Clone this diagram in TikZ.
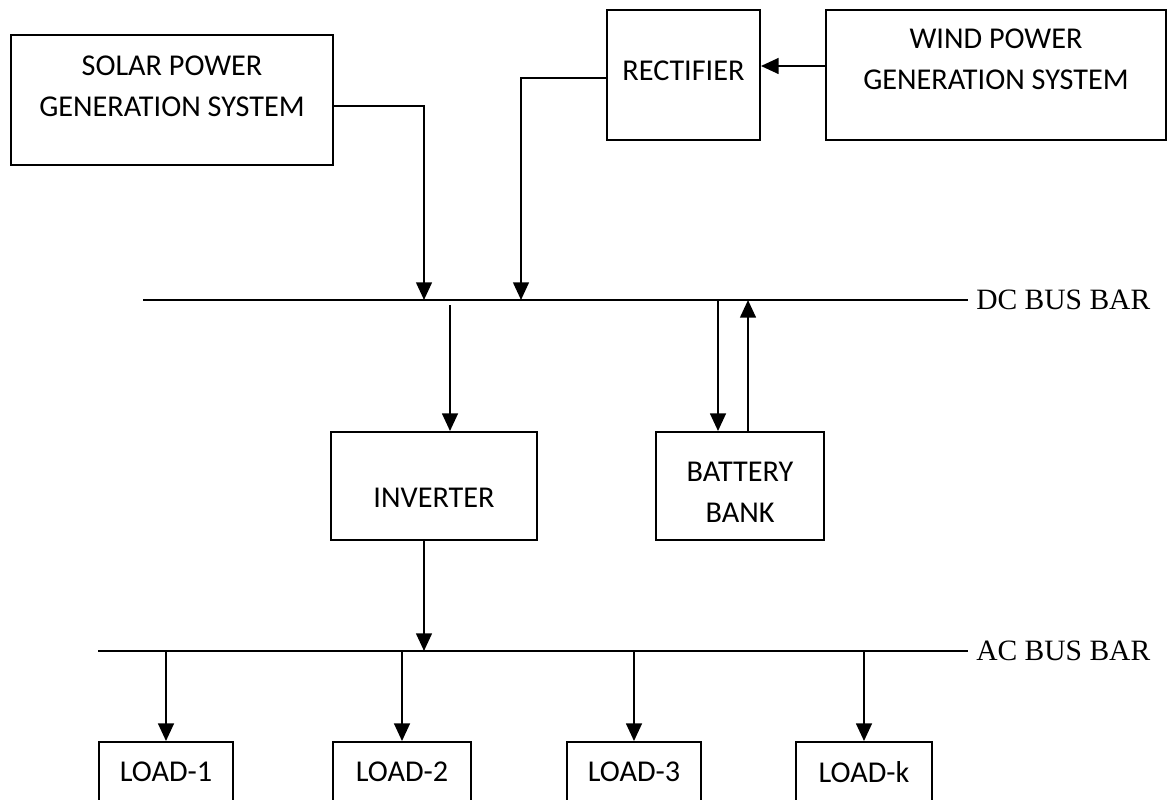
\documentclass[tikz,border=0pt]{standalone}
\usepackage{fontspec}
\setmainfont{Carlito}
\newfontfamily\busfont{Liberation Serif}
\usetikzlibrary{arrows.meta}

\begin{document}
\begin{tikzpicture}[
	x = 0.025cm, y = -0.025cm, % one unit per pixel of the sketch
	> = {Triangle[length=4.4mm, width=3.9mm]}, % arrow head style
	B/.style={rectangle, draw=black, line width=1.3pt, inner sep=0pt},
	T/.style={align=center, inner sep=0pt, font=\fontsize{21.5}{29}\selectfont},
	BL/.style={anchor=west, inner sep=0pt, font=\busfont\fontsize{21}{24}\selectfont},
	BUS/.style={line width=1.4pt},
	F/.style={->, line width=1.7pt},
	]
	\clip (0,0) rectangle (1169,800);

	% Sources
	\node[B, minimum width=8.05cm, minimum height=3.25cm] (solar) at (172,100) {};
	\node[B, minimum width=3.825cm, minimum height=3.25cm] (rect) at (683.5,75) {};
	\node[B, minimum width=8.5cm, minimum height=3.25cm] (wind) at (996,75) {};
	\node[T] (solar-t) at (172,86.5) {SOLAR POWER\\GENERATION SYSTEM};
	\node[T] (rect-t)  at (683.5,71) {RECTIFIER};
	\node[T] (wind-t)  at (996,59.5) {WIND POWER\\GENERATION SYSTEM};

	% Inverter and storage
	\node[B, minimum width=5.15cm, minimum height=2.7cm] (inv) at (434,486) {};
	\node[B, minimum width=4.2cm, minimum height=2.7cm] (bat) at (740,486) {};
	\node[T] (inv-t) at (434,498) {INVERTER};
	\node[T] (bat-t) at (740,492) {BATTERY\\BANK};

	% Loads
	\node[B, minimum width=3.35cm, minimum height=2.5cm] (load1) at (166,792) {};
	\node[B, minimum width=3.45cm, minimum height=2.5cm] (load2) at (402,792) {};
	\node[B, minimum width=3.35cm, minimum height=2.5cm] (load3) at (634,792) {};
	\node[B, minimum width=3.4cm, minimum height=2.5cm] (loadk) at (864,792) {};
	\node[T] (load1-t) at (166,772) {LOAD-1};
	\node[T] (load2-t) at (402,772) {LOAD-2};
	\node[T] (load3-t) at (634,772) {LOAD-3};
	\node[T] (loadk-t) at (864,772) {LOAD-k};

	% Bus bars
	\coordinate (dcL) at (143,300);
	\coordinate (dcR) at (968,300);
	\coordinate (acL) at (98,651);
	\coordinate (acR) at (968,651);
	\draw[BUS] (dcL) -- (dcR);
	\draw[BUS] (acL) -- (acR);
	\node[BL] (dc) at (976,300) {DC BUS BAR};
	\node[BL] (ac) at (976,651) {AC BUS BAR};

	% Taps on the bus bars
	\coordinate (dc1) at (424,300);
	\coordinate (dc2) at (521,300);
	\coordinate (dc3) at (450,305);
	\coordinate (dc4) at (718,300);
	\coordinate (dc5) at (748,300);
	\coordinate (ac0) at (424,651);

	% Power flow
	\draw[F] (wind.west) ++(0,2.25mm) coordinate (w) -- (w -| rect.east);
	\draw[F] ([yshift=-1.5mm]solar.east) -| (dc1);
	\draw[F] ([yshift=-0.75mm]rect.west) -| (dc2);
	\draw[F] (dc3) -- (dc3 |- inv.north);
	\draw[F] (dc4) -- (dc4 |- bat.north);
	\draw[F] (dc5 |- bat.north) -- (dc5);
	\draw[F] (ac0 |- inv.south) -- (ac0);
	\draw[F] (load1.north |- acL) -- (load1.north);
	\draw[F] (load2.north |- acL) -- (load2.north);
	\draw[F] (load3.north |- acL) -- (load3.north);
	\draw[F] (loadk.north |- acL) -- (loadk.north);

\end{tikzpicture}
\end{document}
